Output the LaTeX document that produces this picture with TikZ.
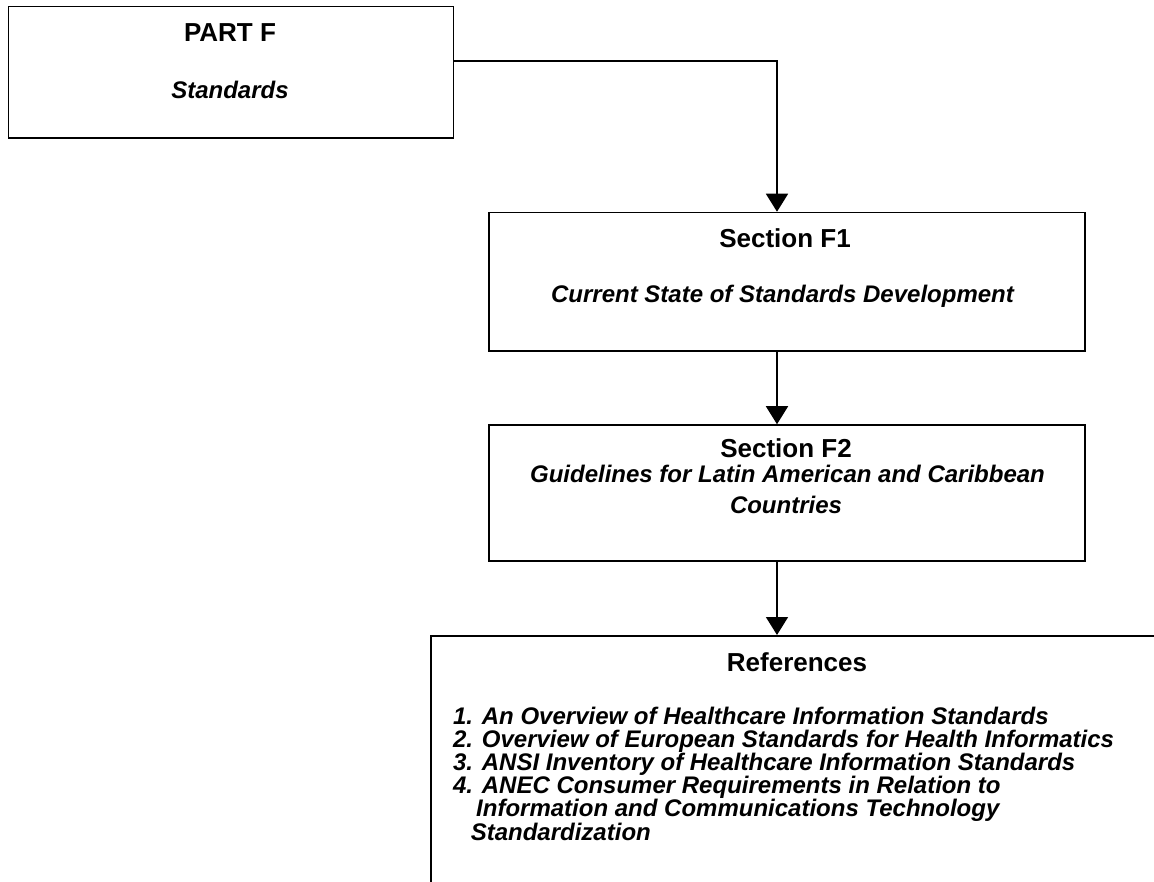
\documentclass[tikz,border=0pt]{standalone}
\usepackage{fontspec}
\setmainfont{Liberation Sans}
\usetikzlibrary{arrows.meta}
\begin{document}
\begin{tikzpicture}[x=1pt,y=-1pt,
  box/.style={draw,line width=1.6pt,rectangle,inner sep=0pt},
  head/.style={font=\fontsize{26}{30}\selectfont\bfseries,inner sep=0pt,anchor=base},
  sub/.style={font=\fontsize{24}{28}\selectfont\bfseries\itshape,inner sep=0pt,anchor=base},
  arr/.style={line width=1.6pt,-{Triangle[width=22pt,length=18pt]}}]
\useasboundingbox (0,0) rectangle (1154,882);
\clip (0,0) rectangle (1154,882);
% boxes
\node[box,minimum width=445pt,minimum height=131.6pt] (partf) at (231,72.5) {};
\node[box,minimum width=596pt,minimum height=138.3pt] (f1) at (787,281.7) {};
\node[box,minimum width=596pt,minimum height=135.7pt] (f2) at (787,492.9) {};
\node[box,minimum width=800pt,minimum height=400pt,anchor=north west] (refs) at (430,635) {};
\coordinate (ax) at (777,0);
% titles and subtitles
\node[head] (partft) at (230,41.7) {PART F};
\node[sub] (partfs) at (230,99) {Standards};
\node[head] (f1t) at (785,248) {Section F1};
\node[sub] (f1s) at (782.5,303) {Current State of Standards Development};
\node[head] (f2t) at (786,457) {Section F2};
\node[sub] (f2s1) at (787.5,482) {Guidelines for Latin American and Caribbean};
\node[sub] (f2s2) at (786,513) {Countries};
\node[head] (refst) at (797,671) {References};
\begin{scope}[every node/.style={sub,anchor=base west}]
\node (r1) at (452.8,724) {1. An Overview of Healthcare Information Standards};
\node (r2) at (452.8,747.2) {2. Overview of European Standards for Health Informatics};
\node (r3) at (452.8,770.4) {3. ANSI Inventory of Healthcare Information Standards};
\node (r4) at (452.8,793.6) {4. ANEC Consumer Requirements in Relation to};
\node (r5) at (476,816.8) {Information and Communications Technology};
\node (r6) at (470.6,840) {Standardization};
\end{scope}
% connectors
\draw[arr] ([yshift=11.5pt]partf.east) -| (ax |- f1.north);
\draw[arr] (ax |- f1.south) -- (ax |- f2.north);
\draw[arr] (ax |- f2.south) -- (ax |- refs.north);
\end{tikzpicture}
\end{document}
